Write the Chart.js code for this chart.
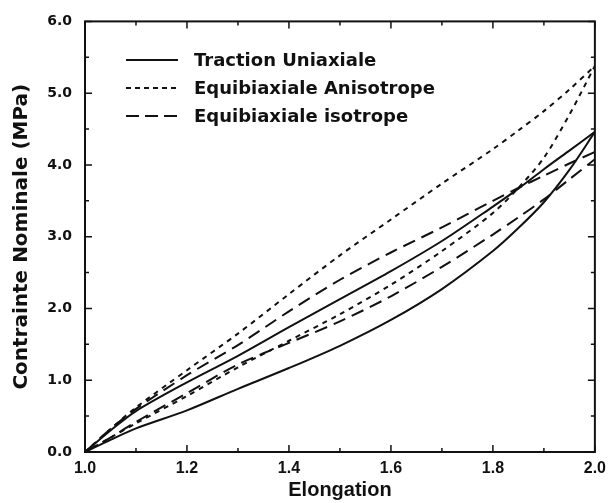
<!DOCTYPE html>
<html>
<head>
<meta charset="utf-8">
<title>Contrainte nominale - elongation</title>
<script src="https://cdn.jsdelivr.net/npm/chart.js@4.4.3/dist/chart.umd.min.js"></script>
<style>
    html, body { margin: 0; padding: 0; background: #fff; }
    .wrap { width: 613px; height: 503px; }
</style>
</head>
<body>
<div class="wrap"><canvas id="chart"></canvas></div>
<script>
// elongation points shared by every branch
const elongation = [1.0, 1.05, 1.1, 1.2, 1.3, 1.4, 1.5, 1.6, 1.7, 1.8, 1.85, 1.9, 1.95, 2.0]

// contrainte nominale (MPa), upper and lower branch of each loop
const uniaxUpper = [0, 0.3, 0.57, 0.97, 1.34, 1.74, 2.13, 2.52, 2.94, 3.42, 3.67, 3.94, 4.2, 4.46]
const uniaxLower = [0, 0.17, 0.33, 0.58, 0.88, 1.17, 1.48, 1.84, 2.27, 2.8, 3.12, 3.48, 3.93, 4.46]
const anisoUpper = [0, 0.32, 0.62, 1.14, 1.65, 2.2, 2.74, 3.24, 3.74, 4.22, 4.48, 4.75, 5.05, 5.38]
const anisoLower = [0, 0.2, 0.4, 0.78, 1.18, 1.55, 1.92, 2.33, 2.8, 3.33, 3.68, 4.1, 4.7, 5.38]
const isoUpper = [0, 0.32, 0.6, 1.07, 1.49, 1.96, 2.4, 2.78, 3.13, 3.5, 3.68, 3.85, 4.02, 4.18]
const isoLower = [0, 0.2, 0.42, 0.82, 1.22, 1.52, 1.82, 2.17, 2.58, 3.03, 3.27, 3.52, 3.8, 4.08]

const seriesNames = ['Traction Uniaxiale', 'Equibiaxiale Anisotrope', 'Equibiaxiale isotrope']
const xTicks = [1.0, 1.2, 1.4, 1.6, 1.8, 2.0]
const yTicks = [0, 1, 2, 3, 4, 5, 6]

const dashes = [[], [5, 5], [13, 7]]
const legendDashes = [[], [5, 4], [13, 6]]
const branches = [[uniaxUpper, uniaxLower], [anisoUpper, anisoLower], [isoUpper, isoLower]]

const pts = ys => elongation.map((x, i) => ({ x: x, y: ys[i] }))

const datasets = []
branches.forEach((pair, s) => {
    pair.forEach(ys => {
        datasets.push({
            label: seriesNames[s],
            data: pts(ys),
            showLine: true,
            borderColor: '#111',
            borderWidth: 2,
            borderDash: dashes[s],
            pointRadius: 0,
            tension: 0.3,
            fill: false
        })
    })
})

const SANS = '"Liberation Sans", Arial, Helvetica, sans-serif'
const WIDE = '"DejaVu Sans", sans-serif'

// frame, inward ticks and the legend inside the plot
const framePlugin = {
    id: 'frame',
    afterDatasetsDraw(chart) {
        const ctx = chart.ctx
        const a = chart.chartArea
        const xs = chart.scales.x, ys = chart.scales.y
        ctx.save()
        ctx.strokeStyle = '#111'
        ctx.lineWidth = 2
        ctx.setLineDash([])
        ctx.strokeRect(a.left, a.top, a.right - a.left, a.bottom - a.top)

        ctx.lineWidth = 1.5
        ctx.beginPath()
        for (let v = 1.0; v <= 2.0001; v += 0.1) {
            const px = xs.getPixelForValue(v)
            const len = Math.round(v * 10) % 2 === 0 ? 7 : 4
            ctx.moveTo(px, a.bottom); ctx.lineTo(px, a.bottom - len)
            ctx.moveTo(px, a.top); ctx.lineTo(px, a.top + len)
        }
        for (let v = 0; v <= 6.0001; v += 0.5) {
            const py = ys.getPixelForValue(v)
            const len = Math.round(v * 2) % 2 === 0 ? 7 : 4
            ctx.moveTo(a.left, py); ctx.lineTo(a.left + len, py)
            ctx.moveTo(a.right, py); ctx.lineTo(a.right - len, py)
        }
        ctx.stroke()

        // legend
        ctx.font = 'bold 18px ' + WIDE
        ctx.fillStyle = '#111'
        ctx.textBaseline = 'middle'
        const rows = [60, 88, 116]
        seriesNames.forEach((name, i) => {
            ctx.beginPath()
            ctx.lineWidth = 2
            ctx.setLineDash(legendDashes[i])
            ctx.moveTo(126, rows[i]); ctx.lineTo(178, rows[i])
            ctx.stroke()
            ctx.setLineDash([])
            ctx.fillText(name, 194, rows[i] + 1)
        })
        ctx.restore()
    }
}

new Chart(document.getElementById('chart'), {
    type: 'scatter',
    data: { datasets: datasets },
    options: {
        responsive: true,
        maintainAspectRatio: false,
        animation: false,
        layout: { padding: { left: 0, top: 21, right: 13, bottom: 0 } },
        plugins: { legend: { display: false }, tooltip: { enabled: false } },
        scales: {
            x: {
                type: 'linear',
                min: 1.0,
                max: 2.0,
                afterFit: s => { s.height = 51 },
                afterBuildTicks: s => { s.ticks = xTicks.map(v => ({ value: v })) },
                grid: { display: false, drawTicks: false },
                border: { display: false },
                ticks: {
                    color: '#111',
                    padding: 7,
                    maxRotation: 0,
                    font: { family: SANS, size: 16, weight: 'bold' },
                    callback: v => v.toFixed(1)
                },
                title: {
                    display: true,
                    text: 'Elongation',
                    color: '#111',
                    padding: { top: 0, bottom: 1 },
                    font: { family: SANS, size: 20, weight: 'bold' }
                }
            },
            y: {
                type: 'linear',
                min: 0,
                max: 6,
                afterFit: s => { s.width = 85 },
                afterBuildTicks: s => { s.ticks = yTicks.map(v => ({ value: v })) },
                grid: { display: false, drawTicks: false },
                border: { display: false },
                ticks: {
                    color: '#111',
                    padding: 13,
                    font: { family: WIDE, size: 14, weight: 'bold' },
                    callback: v => v.toFixed(1)
                },
                title: {
                    display: true,
                    text: 'Contrainte Nominale (MPa)',
                    color: '#111',
                    padding: { top: 10, bottom: 0 },
                    font: { family: WIDE, size: 20, weight: 'bold' }
                }
            }
        }
    },
    plugins: [framePlugin]
})
</script>
</body>
</html>
